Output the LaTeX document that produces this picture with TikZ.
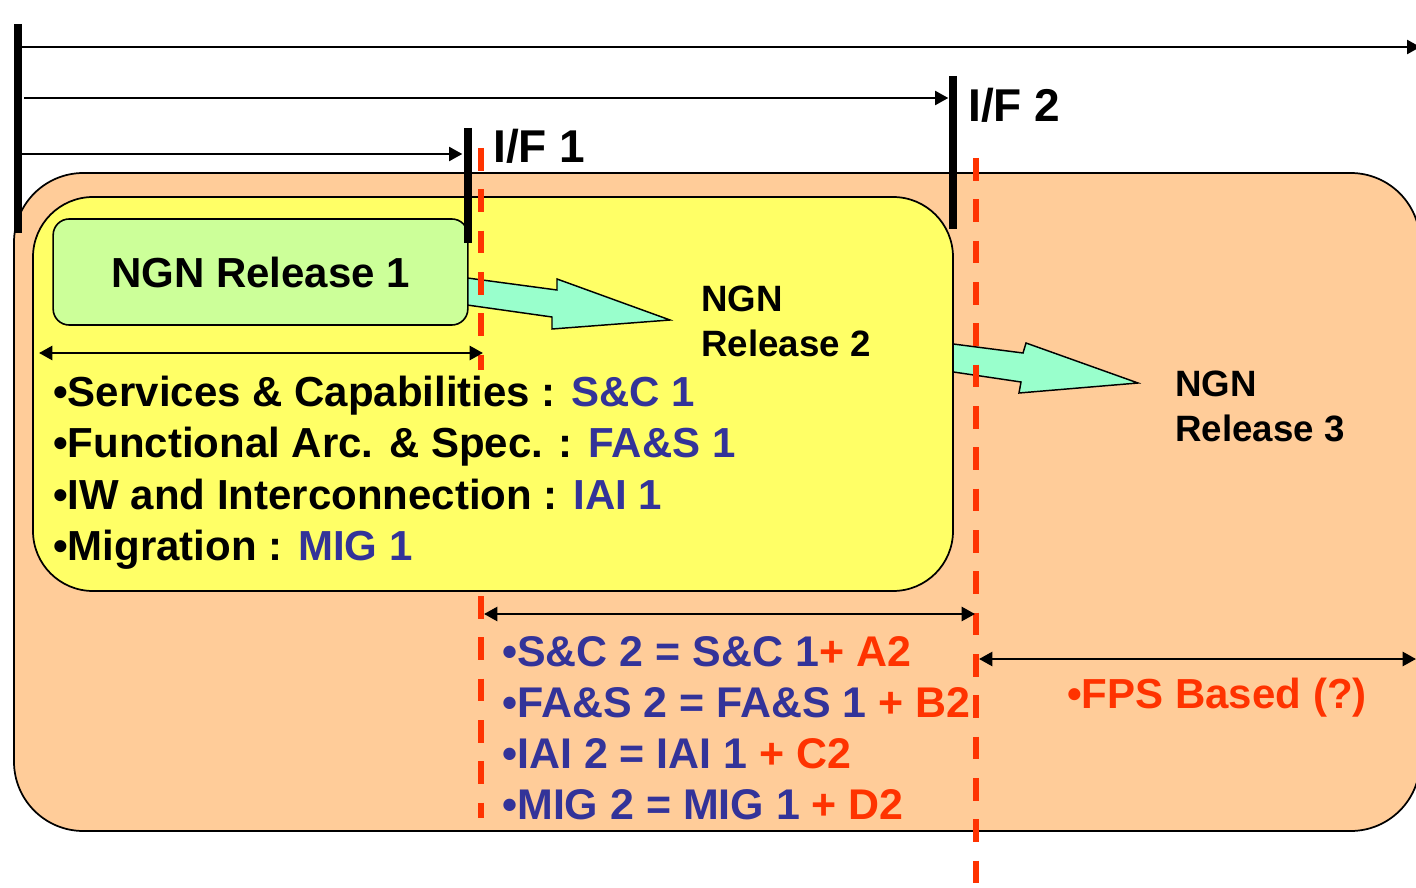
\documentclass[tikz,border=0pt]{standalone}
\usepackage{fontspec}
\setmainfont{Liberation Sans}
\usepackage{tikz}
\usetikzlibrary{arrows.meta, positioning}
\definecolor{peach}{HTML}{FFCC99}
\definecolor{lemon}{HTML}{FFFF66}
\definecolor{lime}{HTML}{CCFF99}
\definecolor{mint}{HTML}{99FFCC}
\definecolor{navy}{HTML}{333399}
\definecolor{flame}{HTML}{FF3300}
\tikzstyle{region}=[draw,line width=1.3pt]
\tikzstyle{release}=[draw,fill=lime,rectangle,rounded corners=12pt,line width=1.2pt,minimum width=311pt,minimum height=79.5pt,font=\fontsize{31.5}{37}\selectfont\bfseries]
\tikzstyle{nextrel}=[anchor=west,inner sep=0pt,align=left,font=\fontsize{27.5}{33.75}\selectfont\bfseries]
\tikzstyle{item}=[anchor=base west,inner sep=0pt,font=\fontsize{31.5}{37}\selectfont\bfseries]
\tikzstyle{delta}=[item,font=\fontsize{32.2}{37}\selectfont\bfseries]
\tikzstyle{iflabel}=[anchor=base west,inner sep=0pt,font=\fontsize{34.5}{40}\selectfont\bfseries]
\tikzstyle{fatarrow}=[fill=mint,draw=black,line width=1.1pt,line join=miter]
\tikzstyle{bar}=[line width=6pt]
\tikzstyle{cut}=[draw=flame,line width=4pt,dash pattern=on 17pt off 14pt]
\tikzstyle{timeline}=[->,line width=1.9pt,shorten >=0.5pt]
\tikzstyle{span}=[<->,line width=1.9pt]
\newcommand{\spec}[1]{\textcolor{navy}{#1}}
\newcommand{\added}[1]{\textcolor{flame}{#1}}

\begin{document}
\begin{tikzpicture}[x=0.75pt,y=-0.75pt,>={Triangle[length=10pt,width=10.5pt]}]
  \useasboundingbox (0,0) rectangle (1416,888);

  % nested scopes
  \draw[region,fill=peach,rounded corners=52pt] (14,173) rectangle (1420,831);
  \draw[fatarrow] (940,342.3) -- (1023,353) -- (1026,343) -- (1138,383) -- (1019,393) -- (1021,382) -- (940,370) -- cycle;
  \draw[region,fill=lemon,rounded corners=45pt] (33,197) rectangle (953,591);
  \draw[fatarrow] (460,277) -- (557,290) -- (557,279) -- (670,320) -- (552,329) -- (552,317) -- (460,304) -- cycle;
  \node[release] (rel1) at (260.5,272) {NGN Release 1};
  \node[nextrel] (rel2) at (701,321) {NGN\\Release 2};
  \node[nextrel] (rel3) at (1175,406) {NGN\\Release 3};

  % release 1 contents
  \node[item] (sc1) at (53,406) {\textbullet Services \& Capabilities : \spec{S\&C 1}};
  \node[item] (fas1) at (53,457) {\textbullet Functional Arc. \& Spec. : \spec{FA\&S 1}};
  \node[item] (iai1) at (53,509) {\textbullet IW and Interconnection : \spec{IAI 1}};
  \node[item] (mig1) at (53,560) {\textbullet Migration : \spec{MIG 1}};

  % release 2 contents
  \node[delta,navy] (sc2) at (502,666) {\textbullet S\&C 2 = S\&C 1\added{+ A2}};
  \node[delta,navy] (fas2) at (502,717) {\textbullet FA\&S 2 = FA\&S 1 \added{+ B2}};
  \node[delta,navy] (iai2) at (502,768) {\textbullet IAI 2 = IAI 1 \added{+ C2}};
  \node[delta,navy] (mig2) at (502,819) {\textbullet MIG 2 = MIG 1 \added{+ D2}};

  % release 3
  \node[item,flame] (fps) at (1067,708) {\textbullet FPS Based (?)};

  % interfaces
  \coordinate (t0top) at (17.5,24);
  \coordinate (t0bot) at (17.5,233);
  \coordinate (if1top) at (467.5,128);
  \coordinate (if1bot) at (467.5,243);
  \coordinate (if2top) at (953,76);
  \coordinate (if2bot) at (953,229);
  \draw[bar] (t0top) -- (t0bot);
  \draw[bar] (if1top) -- (if1bot);
  \draw[bar] (if2top) -- (if2bot);
  \node[iflabel] (if1) at (493,162) {I/F 1};
  \node[iflabel] (if2) at (968,122) {I/F 2};

  \coordinate (cut1top) at (481,148);
  \coordinate (cut1mid) at (481,370);
  \coordinate (cut1low) at (481,596);
  \coordinate (cut1bot) at (481,818);
  \coordinate (cut2top) at (976,158);
  \coordinate (cut2bot) at (976,892);
  \draw[cut] (cut1top) -- (cut1mid);
  \draw[cut] (cut1low) -- (cut1bot);
  \draw[cut] (cut2top) -- (cut2bot);

  % time lines
  \coordinate (line1s) at (22,47);
  \coordinate (line1e) at (1421,47);
  \coordinate (line2s) at (24,98);
  \coordinate (line2e) at (949,98);
  \coordinate (line3s) at (22,154);
  \coordinate (line3e) at (463,154);
  \draw[timeline] (line1s) -- (line1e);
  \draw[timeline] (line2s) -- (line2e);
  \draw[timeline] (line3s) -- (line3e);

  % spans
  \coordinate (span1l) at (39,353);
  \coordinate (span1r) at (483,353);
  \coordinate (span2l) at (484,614);
  \coordinate (span2r) at (975,614);
  \coordinate (span3l) at (979,659);
  \coordinate (span3r) at (1416,659);
  \draw[span] (span1l) -- (span1r);
  \draw[span] (span2l) -- (span2r);
  \draw[span] (span3l) -- (span3r);
\end{tikzpicture}
\end{document}
